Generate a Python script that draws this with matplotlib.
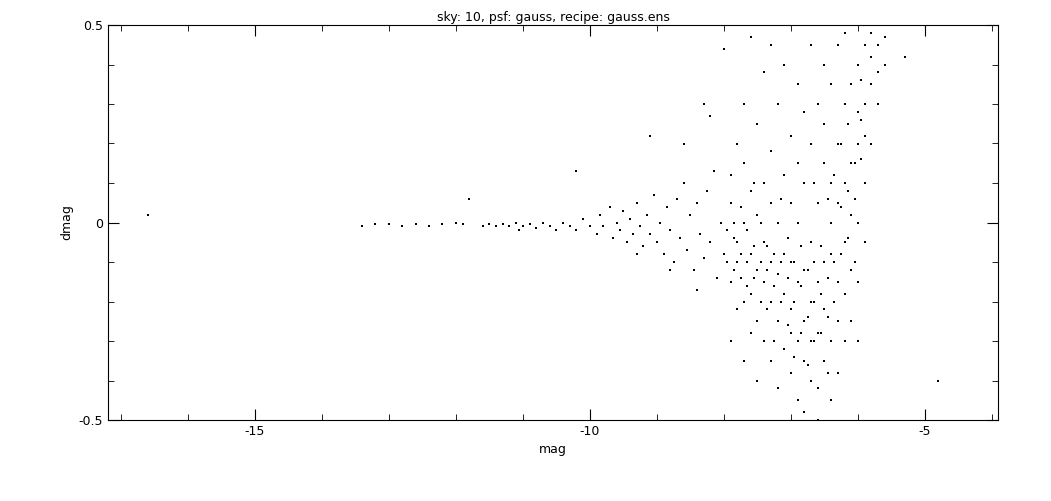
import matplotlib
matplotlib.use("Agg")
import matplotlib.pyplot as plt
from matplotlib.ticker import MultipleLocator

# (mag, list of dmag) columns
bright = [(-16.6,[0.02]),(-13.4,[-0.01]),(-13.2,[-0.005]),(-13.0,[-0.005]),(-12.8,[-0.01]),
 (-12.6,[-0.005]),(-12.4,[-0.01]),(-12.2,[-0.005]),(-12.0,[0.0]),(-11.9,[-0.005]),(-11.8,[0.06]),
 (-11.6,[-0.01]),(-11.5,[-0.005]),(-11.4,[-0.01]),(-11.3,[-0.005]),(-11.2,[-0.01]),(-11.1,[0.0]),
 (-11.05,[-0.02]),(-11.0,[-0.01]),(-10.9,[-0.005]),(-10.8,[-0.015]),(-10.7,[0.0]),(-10.6,[-0.01]),
 (-10.5,[-0.02]),(-10.4,[0.0]),(-10.3,[-0.01]),(-10.2,[0.13,-0.02]),(-10.1,[0.01]),(-10.0,[-0.01])]
middle = [(-9.9,[-0.03]),(-9.85,[0.02]),(-9.8,[-0.01]),(-9.7,[0.04]),(-9.65,[-0.04]),(-9.6,[0.0]),
 (-9.55,[-0.02]),(-9.5,[0.03]),(-9.45,[-0.05]),(-9.4,[0.01]),(-9.35,[-0.03]),(-9.3,[0.05,-0.08]),
 (-9.25,[-0.01]),(-9.2,[-0.06]),(-9.15,[0.02]),(-9.1,[-0.03,0.22]),(-9.05,[0.07]),(-9.0,[-0.05]),
 (-8.95,[0.0]),(-8.9,[-0.08]),(-8.85,[0.04]),(-8.8,[-0.02,-0.12]),(-8.75,[-0.1]),(-8.7,[0.06]),
 (-8.65,[-0.04]),(-8.6,[0.1,0.2]),(-8.55,[-0.07]),(-8.5,[0.02]),(-8.45,[-0.12]),(-8.4,[0.05,-0.17]),
 (-8.35,[-0.03]),(-8.3,[0.3,-0.09]),(-8.25,[0.08]),(-8.2,[-0.05,0.27]),(-8.15,[0.13]),(-8.1,[-0.14]),
 (-8.05,[0.0]),(-8.0,[-0.08,0.44])]
faint = [(-7.95,[-0.02,-0.1]),(-7.9,[0.05,-0.15,-0.3,0.12]),(-7.85,[0.0,-0.12,-0.04]),
 (-7.8,[-0.05,-0.22,0.2,-0.1]),(-7.75,[-0.08,-0.14,0.04]),(-7.7,[0.0,-0.2,-0.35,0.15,0.3]),
 (-7.65,[-0.1,-0.02,-0.16]),(-7.6,[-0.08,-0.18,0.08,-0.28,0.47]),(-7.55,[-0.06,-0.14,0.1]),
 (-7.5,[-0.12,0.02,-0.25,0.25,-0.4]),(-7.45,[-0.1,-0.2,0.0]),(-7.4,[-0.15,-0.05,0.1,-0.3,0.38]),
 (-7.35,[-0.12,-0.06,-0.22]),(-7.3,[-0.2,0.05,-0.1,-0.35,0.18,0.45]),(-7.25,[-0.08,-0.16,-0.3]),
 (-7.2,[-0.13,-0.25,0.0,0.3,-0.42]),(-7.15,[-0.1,-0.2,0.06]),(-7.1,[-0.18,-0.08,0.12,-0.32,0.4]),
 (-7.05,[-0.14,-0.26,-0.04]),(-7.0,[-0.22,-0.1,0.05,0.22,-0.38,-0.28]),(-6.95,[-0.1,-0.2,-0.34]),
 (-6.9,[-0.15,-0.3,0.0,0.35,-0.45,0.15]),(-6.85,[-0.16,-0.06,-0.28]),
 (-6.8,[-0.25,-0.12,0.1,-0.35,0.28,-0.48]),(-6.75,[-0.12,-0.24,-0.36]),
 (-6.7,[-0.2,-0.05,0.2,-0.3,0.45,-0.4]),(-6.65,[-0.1,-0.2,-0.3,0.1]),
 (-6.6,[-0.28,-0.15,0.05,0.3,-0.42,-0.5]),(-6.55,[-0.18,-0.28,-0.06]),
 (-6.5,[-0.22,-0.1,0.15,-0.35,0.4,0.25]),(-6.45,[-0.14,-0.24,0.06,-0.38]),
 (-6.4,[-0.3,-0.08,0.1,0.35,-0.45,0.0]),(-6.35,[-0.1,-0.2,0.12]),
 (-6.3,[-0.25,-0.15,0.2,0.45,-0.38,0.05]),(-6.25,[-0.08,0.04,0.2]),
 (-6.2,[-0.18,0.1,0.3,0.48,-0.3,-0.05]),(-6.15,[-0.04,0.08,0.25]),
 (-6.1,[-0.12,0.15,0.35,0.5,-0.25,0.02]),(-6.05,[0.06,0.15,-0.1]),
 (-6.0,[0.0,0.2,0.4,-0.15,0.28,-0.3]),(-5.95,[0.16,0.26,0.36]),(-5.9,[0.1,0.3,0.45,0.22,-0.05]),
 (-5.8,[0.2,0.35,0.48,0.42]),(-5.7,[0.3,0.45,0.38,0.5]),(-5.6,[0.4,0.47]),(-5.3,[0.42]),(-4.8,[-0.4])]

mag, dmag = [], []
for m, ds in bright + middle + faint:
    for d in ds:
        mag.append(m); dmag.append(d)

fig = plt.figure(figsize=(10.51, 5.01), dpi=100)
ax = fig.add_axes([108/1051, 81/501, 890/1051, 395/501])
ax.scatter(mag, dmag, s=2.5, c="black", marker="s", linewidths=0)
ax.set_xlim(-17.19, -3.91)
ax.set_ylim(-0.5, 0.5)
ax.set_xticks([-15, -10, -5]); ax.set_yticks([-0.5, 0, 0.5])
ax.set_yticklabels(["-0.5", "0", "0.5"])
ax.set_xticklabels(["-15", "-10", "-5"])
ax.xaxis.set_minor_locator(MultipleLocator(1))
ax.yaxis.set_minor_locator(MultipleLocator(0.1))
ax.tick_params(which="both", direction="in", top=True, right=True, labelsize=9)
ax.tick_params(which="major", length=8)
ax.tick_params(which="minor", length=4)
for s in ax.spines.values(): s.set_linewidth(0.8)
ax.set_xlabel("mag", fontsize=9)
ax.set_ylabel("dmag", fontsize=9)
ax.set_title("sky: 10, psf: gauss, recipe: gauss.ens", fontsize=9, pad=3)
fig.savefig("out.png", dpi=100)
